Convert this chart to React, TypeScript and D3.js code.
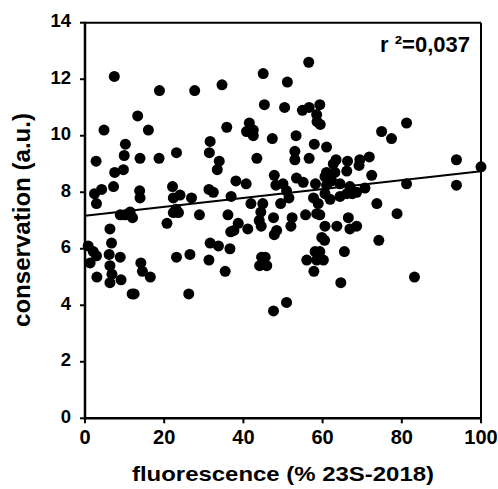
import React from 'react';
import * as d3 from 'd3';

// fluorescence (% 23S-2018) vs conservation (a.u.)
const FLUOR = [
  0.8, 1.3, 2.1, 2.9, 3.0, 2.8, 2.4, 4.2, 2.9, 4.8, 6.1, 6.3, 6.8, 6.3, 6.3, 6.7, 7.4, 7.5, 7.2, 8.9,
  9.1, 8.9, 10.1, 11.4, 12.0, 9.7, 9.9, 10.2,
  11.9, 12.4, 13.3, 13.8, 13.9, 13.9, 14.1, 14.5, 16.0, 16.5, 18.8, 18.7,
  20.7, 22.1, 22.3, 22.3, 23.6, 23.0, 24.0, 23.1, 23.1, 26.5, 26.2, 26.9, 27.7, 28.9,
  31.6, 31.4, 31.3, 32.4, 31.6, 33.7, 31.3, 33.9, 33.4, 34.6, 35.8, 35.4, 36.6, 36.1, 36.9, 38.1,
  38.7, 37.6, 36.8,
  40.8, 41.5, 42.5, 42.5, 45.0, 45.3, 47.3, 43.4, 40.7, 41.9, 44.9, 44.4, 44.0, 44.5, 41.1, 47.8,
  48.2, 50.0, 49.4, 47.6, 48.4, 47.8, 44.6, 45.5, 44.1, 45.9, 47.6,
  51.1, 50.4, 54.9, 56.6, 59.3, 58.5, 58.6, 59.4, 56.5, 53.3, 57.9, 53.0, 53.0, 56.6, 53.4, 55.1,
  58.2, 50.9, 51.5, 57.7, 58.9, 52.3, 52.0, 55.7, 58.5, 59.3, 59.8, 56.0, 58.1, 59.3, 58.5, 60.2,
  57.8, 50.9,
  61.0, 63.4, 62.7, 66.3, 69.4, 71.8, 66.1, 69.2, 72.4, 61.0, 63.1, 60.6, 61.0, 62.3, 64.4, 66.9,
  68.6, 70.7, 60.6, 61.9, 64.4, 66.1, 67.5, 73.7, 66.5, 60.6, 63.6, 66.9, 68.6, 60.5, 74.2, 65.5,
  64.6, 74.9, 77.4, 81.2, 78.8, 81.2, 83.2, 93.8, 93.8, 100,
];
const CONSERV = [
  6.1, 5.5, 5.9, 5.75, 5.0, 9.1, 7.95, 8.1, 7.6, 10.2, 5.8, 5.4, 5.1, 4.8, 6.7, 6.2, 12.1, 8.7, 8.2, 5.7,
  4.9, 7.2, 7.2, 7.3, 7.1, 8.8, 9.3, 9.7,
  4.4, 4.4, 10.7, 8.05, 7.8, 9.2, 5.5, 5.2, 10.2, 5.0, 11.6, 9.2,
  6.9, 8.2, 7.8, 7.28, 7.28, 7.4, 7.9, 9.4, 5.7, 5.8, 4.4, 7.8, 11.6, 7.2,
  9.8, 9.4, 8.1, 8.0, 6.2, 6.1, 5.6, 9.1, 8.8, 11.8, 10.3, 5.2, 6.0, 7.2, 7.85, 8.4,
  6.9, 6.65, 6.6,
  10.15, 10.45, 10.2, 10.0, 12.2, 11.1, 9.9, 9.2, 8.3, 7.6, 7.6, 7.3, 7.0, 6.8, 6.7, 8.6,
  8.25, 8.3, 7.6, 7.1, 6.65, 6.5, 5.7, 5.7, 5.4, 5.4, 3.8,
  11.9, 11.0, 10.9, 11.0, 11.1, 10.75, 10.5, 10.4, 12.6, 10.0, 9.7, 9.45, 9.15, 9.2, 8.5, 8.35,
  8.3, 8.05, 7.8, 7.8, 7.6, 7.1, 6.8, 7.2, 7.24, 7.2, 6.4, 5.6, 5.9, 5.9, 5.6, 5.6,
  5.2, 4.1,
  9.6, 9.15, 9.0, 9.1, 9.15, 9.25, 8.75, 8.95, 8.6, 8.7, 8.7, 8.55, 8.25, 8.4, 8.3, 8.2,
  8.0, 8.15, 7.95, 7.75, 7.85, 7.95, 7.95, 7.6, 7.1, 6.8, 6.8, 6.7, 6.8, 6.3, 6.3, 5.9,
  4.8, 10.15, 9.9, 10.45, 7.24, 8.3, 5.0, 9.15, 8.25, 8.9,
];
const X_TICKS = [0, 20, 40, 60, 80, 100];
const Y_TICKS = [0, 2, 4, 6, 8, 10, 12, 14];
// linear fit shown on the figure
const FIT_INTERCEPT = 7.17;
const FIT_SLOPE = 0.0157;
const R2_LABEL = 'r \u00b2=0,037';

export default function App() {
  const W = 498, H = 489;
  const x = d3.scaleLinear().domain([0, 100]).range([85, 481]);
  const y = d3.scaleLinear().domain([0, 14]).range([418.3, 22.7]);
  const font = '"Liberation Sans", Arial, sans-serif';
  const pts = FLUOR.map((f, i) => ({ f, c: CONSERV[i] }));
  const fitLine = d3.line<number>().x(d => x(d)).y(d => y(FIT_INTERCEPT + FIT_SLOPE * d));

  return (
    <svg width={W} height={H} style={{ position: 'absolute', left: 0, top: 0, background: '#fff' }}
      fontFamily={font} fontWeight="bold">
      {/* frame top/right */}
      <line x1={x(0)} x2={x(100)} y1={y(14)} y2={y(14)} stroke="#000" strokeWidth={2} />
      <line x1={x(100)} x2={x(100)} y1={y(14)} y2={y(0)} stroke="#000" strokeWidth={2} />
      {pts.map((d, i) => (
        <circle key={i} cx={x(d.f)} cy={y(d.c)} r={5.5} fill="#000" />
      ))}
      <path d={fitLine([0, 100]) || ''} fill="none" stroke="#000" strokeWidth={2} />
      {/* axes */}
      <line x1={x(0)} x2={x(0)} y1={y(14) - 1} y2={y(0) + 1} stroke="#000" strokeWidth={2.5} />
      <line x1={x(0) - 1} x2={x(100) + 1} y1={y(0)} y2={y(0)} stroke="#000" strokeWidth={2.5} />
      {Y_TICKS.map(t => (
        <g key={'y' + t}>
          <line x1={x(0) - 5} x2={x(0)} y1={y(t)} y2={y(t)} stroke="#000" strokeWidth={2} />
          <text x={71} y={y(t) + 4.5} textAnchor="end" fontSize={18.5}>{t}</text>
        </g>
      ))}
      {X_TICKS.map(t => (
        <g key={'x' + t}>
          <line x1={x(t)} x2={x(t)} y1={y(0)} y2={y(0) + 5} stroke="#000" strokeWidth={2} />
          <text x={x(t)} y={443.5} textAnchor="middle" fontSize={20}>{t}</text>
        </g>
      ))}
      <text x={283} y={481} textAnchor="middle" fontSize={20.5} textLength={302} lengthAdjust="spacingAndGlyphs">
        fluorescence (% 23S-2018)
      </text>
      <text transform="translate(30,220) rotate(-90)" textAnchor="middle" fontSize={23} textLength={214}
        lengthAdjust="spacingAndGlyphs">
        conservation (a.u.)
      </text>
      <text x={470} y={51.5} textAnchor="end" fontSize={22}>{R2_LABEL}</text>
    </svg>
  );
}
